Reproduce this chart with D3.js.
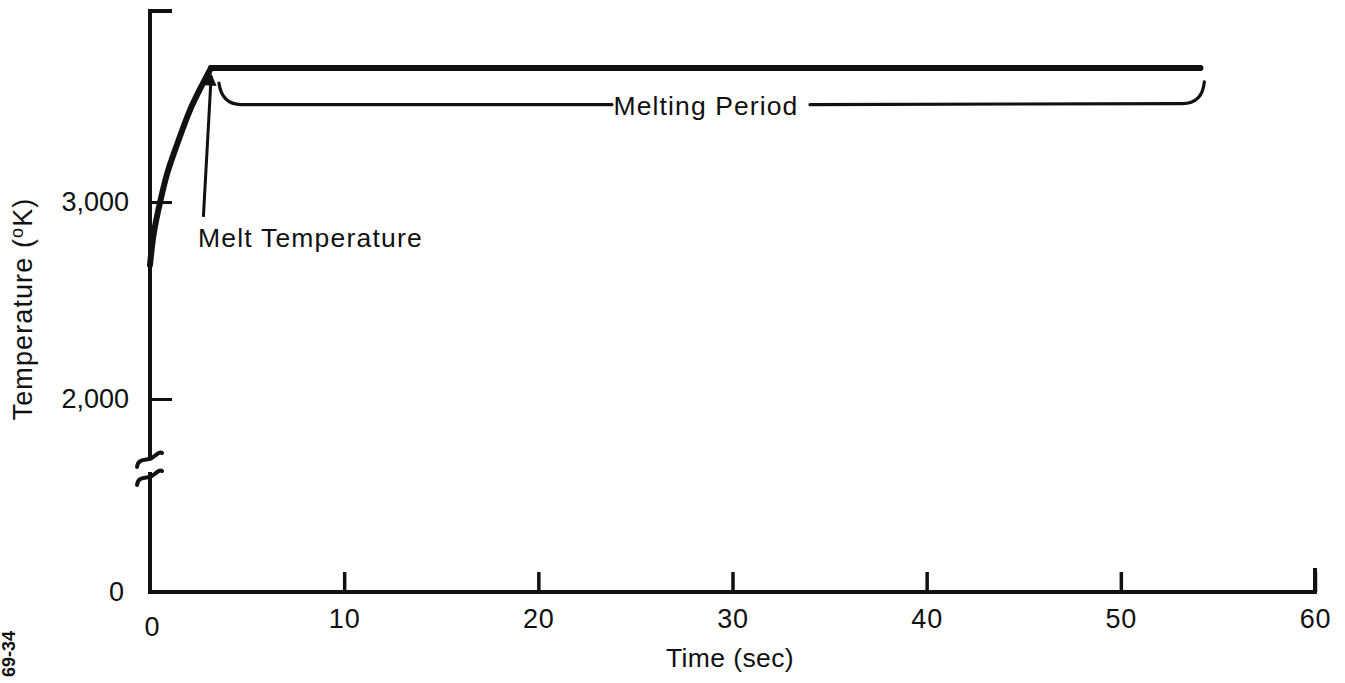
<!DOCTYPE html>
<html>
<head>
<meta charset="utf-8">
<script src="https://cdn.jsdelivr.net/npm/d3@7"></script>
<style>
  html, body { margin: 0; padding: 0; background: #fff; }
  svg { display: block; }
  text { font-family: "Liberation Sans", Arial, sans-serif; fill: #111; }
</style>
</head>
<body>
<svg id="chart" width="1345" height="683"></svg>
<script>
// Surface temperature history: heat-up to the melt point, then a flat melting plateau
const timeSec = [0, 0.2, 0.52, 0.9, 1.29, 2.06, 2.6, 3.14, 54.1];
const tempK   = [2680, 2845, 3000, 3150, 3264, 3467, 3578, 3680, 3680];

const xTicks = [0, 10, 20, 30, 40, 50, 60];
const xTickLabels = ["0", "10", "20", "30", "40", "50", "60"];
const yTicks = [0, 2000, 3000];
const yTickLabels = ["0", "2,000", "3,000"];

// Melting-period bracket (time, temperature)
const braceStart = [3.55, 3604];
const braceLevel = 3495;
const braceEnd = [54.3, 3610];
const meltArrowFrom = [2.75, 2925];
const meltArrowTo = [3.15, 3640];

const svg = d3.select("#chart");

const x = d3.scaleLinear().domain([0, 60]).range([150, 1315]);
// broken temperature axis: 0 sits just below the break, then linear from ~1665 K upward
const y = d3.scaleLinear().domain([0, 1665, 3975]).range([592, 465, 10]);

const ink = "#111";
const fontStack = "Liberation Sans, Arial, sans-serif";

// ---- axes ----
const xAxis = d3.axisBottom(x)
  .tickValues(xTicks)
  .tickFormat((d, i) => xTickLabels[i])
  .tickSizeInner(-20)
  .tickSizeOuter(0)
  .tickPadding(17);

const gx = svg.append("g").attr("transform", `translate(0,${y(0)})`).call(xAxis);
gx.select(".domain").remove();
gx.selectAll(".tick line").attr("stroke", ink).attr("stroke-width", 3.5);
gx.selectAll(".tick text")
  .attr("font-size", 27).attr("fill", ink).attr("letter-spacing", 0.8)
  .style("font-family", fontStack);
gx.selectAll(".tick").filter(d => d === 0).select("line").remove();
gx.selectAll(".tick").filter(d => d === 0).select("text").attr("dx", 2).attr("dy", "1.0em");

const yAxis = d3.axisLeft(y)
  .tickValues(yTicks)
  .tickFormat((d, i) => yTickLabels[i])
  .tickSizeInner(-22)
  .tickSizeOuter(0)
  .tickPadding(21);

const gy = svg.append("g").attr("transform", `translate(${x(0)},0)`).call(yAxis);
gy.select(".domain").remove();
gy.selectAll(".tick line").attr("stroke", ink).attr("stroke-width", 3);
gy.selectAll(".tick text")
  .attr("font-size", 27).attr("fill", ink)
  .style("font-family", fontStack);
gy.selectAll(".tick").filter(d => d === 0).select("line").remove();
gy.selectAll(".tick").filter(d => d === 0).select("text").attr("dx", -5);

// axis lines with the break on the temperature axis
const x0 = x(0);
const lineAttrs = sel => sel.attr("fill", "none").attr("stroke", ink)
  .attr("stroke-width", 4).attr("stroke-linecap", "square");

svg.append("path").call(lineAttrs)
  .attr("d", `M${x0 + 20},${y(3975) + 1} L${x0},${y(3975) + 1} L${x0},${y(1665) - 8}`);
svg.append("path").call(lineAttrs)
  .attr("d", `M${x0},${y(1665) + 9} L${x0},${y(0)} L${x(60)},${y(0)} L${x(60)},${y(0) - 22}`);

// break marks
const breakMark = yc => `M${x0 - 13},${yc + 8} C${x0 - 12},${yc - 2} ${x0 - 2},${yc + 2} ${x0 + 2},${yc - 1} S${x0 + 10},${yc - 8} ${x0 + 12},${yc - 6}`;
[y(1665) - 6, y(1665) + 12].forEach(yc => {
  svg.append("path").attr("d", breakMark(yc))
    .attr("fill", "none").attr("stroke", ink).attr("stroke-width", 4).attr("stroke-linecap", "round");
});

// ---- temperature curve ----
const pts = timeSec.map((t, i) => [x(t), y(tempK[i])]);
const heatPts = pts.slice(0, 8);
svg.append("path")
  .attr("d", d3.line().curve(d3.curveCatmullRom.alpha(0.5))(heatPts))
  .attr("fill", "none").attr("stroke", ink).attr("stroke-width", 6).attr("stroke-linecap", "round");
svg.append("path")
  .attr("d", d3.line()(pts.slice(7)))
  .attr("fill", "none").attr("stroke", ink).attr("stroke-width", 6).attr("stroke-linecap", "round");

// ---- melting period bracket ----
const bx0 = x(braceStart[0]), by0 = y(braceStart[1]);
const bx1 = x(braceEnd[0]), by1 = y(braceEnd[1]);
const bl = y(braceLevel);
const labelX = 706;
const gapL = 612, gapR = 810;
svg.append("path")
  .attr("d", `M${bx0},${by0} Q${bx0 + 3},${bl} ${bx0 + 22},${bl} L${gapL},${bl}`)
  .attr("fill", "none").attr("stroke", ink).attr("stroke-width", 3.2).attr("stroke-linecap", "round");
svg.append("path")
  .attr("d", `M${gapR},${bl} L${bx1 - 22},${bl - 1} Q${bx1 - 2},${bl - 1} ${bx1},${by1}`)
  .attr("fill", "none").attr("stroke", ink).attr("stroke-width", 3.2).attr("stroke-linecap", "round");
svg.append("text")
  .attr("x", labelX).attr("y", 115)
  .attr("text-anchor", "middle").attr("font-size", 26.5).attr("letter-spacing", 1.1)
  .text("Melting Period");

// ---- melt temperature callout ----
const ax0 = x(meltArrowFrom[0]), ay0 = y(meltArrowFrom[1]);
const ax1 = x(meltArrowTo[0]), ay1 = y(meltArrowTo[1]);
svg.append("defs").append("marker")
  .attr("id", "head").attr("viewBox", "0 0 10 10").attr("refX", 8).attr("refY", 5)
  .attr("markerWidth", 5).attr("markerHeight", 4).attr("orient", "auto")
  .append("path").attr("d", "M0,0 L10,5 L0,10 Z").attr("fill", ink);
svg.append("line")
  .attr("x1", ax0).attr("y1", ay0).attr("x2", ax1).attr("y2", ay1)
  .attr("stroke", ink).attr("stroke-width", 3).attr("marker-end", "url(#head)");
svg.append("text")
  .attr("x", 198).attr("y", 247).attr("font-size", 26.5).attr("letter-spacing", 1.2)
  .text("Melt Temperature");

// ---- axis titles ----
svg.append("text")
  .attr("x", 730).attr("y", 667).attr("text-anchor", "middle").attr("font-size", 26.5)
  .attr("letter-spacing", 0.4)
  .text("Time (sec)");

const yt = svg.append("text")
  .attr("transform", "translate(32,309) rotate(-90)")
  .attr("text-anchor", "middle").attr("font-size", 27).attr("letter-spacing", 1.1);
yt.append("tspan").text("Temperature (");
yt.append("tspan").attr("font-size", 18).attr("dy", -9).text("o");
yt.append("tspan").attr("dy", 9).text("K)");

svg.append("text")
  .attr("transform", "translate(15,654) rotate(-90)")
  .attr("text-anchor", "middle").attr("font-size", 18).attr("font-weight", "bold")
  .text("69-34");
</script>
</body>
</html>
